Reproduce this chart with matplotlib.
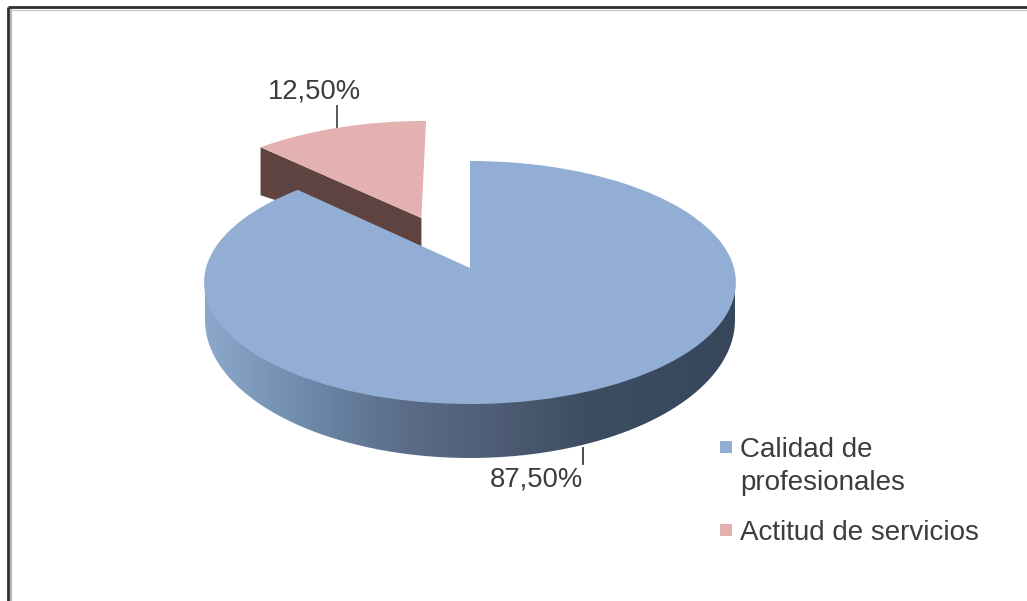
import numpy as np
import matplotlib
matplotlib.use("Agg")
import matplotlib.pyplot as plt
from matplotlib.transforms import Transform
from matplotlib.path import Path
from matplotlib.patches import PathPatch
from matplotlib.colors import LinearSegmentedColormap

categories = ["Calidad de\nprofesionales", "Actitud de servicios"]
values = [87.5, 12.5]
explode = [0, 0.475]
colors = ["#92AED4", "#E3B1B0"]

plt.rcParams["font.family"] = ["Liberation Sans", "DejaVu Sans"]
TXT = "#3c3c3c"
FS = 19.7
FS_LEG = 20

fig = plt.figure(figsize=(10.27, 6.01), dpi=100, facecolor="white")
ax = fig.add_axes([0, 0, 1, 1])


class Tilt(Transform):
    """Perspective view of the pie plane, output in pixel-like data units."""
    input_dims = 2
    output_dims = 2
    is_affine = False
    has_inverse = False
    cy, a, b, k = 268, 264, 119.8, 0.1194

    def __init__(self, cx):
        super().__init__()
        self.cx = cx

    def transform_non_affine(self, values):
        xy = np.asarray(values, dtype=float).reshape(-1, 2)
        s = 1 / (1 + self.k * xy[:, 1])
        return np.column_stack([self.cx + self.a * xy[:, 0] * s, self.cy - self.b * xy[:, 1] * s])


tilt_big = Tilt(470)
tilt_small = Tilt(467)
wedges, _ = ax.pie(values, colors=colors, explode=explode, startangle=90, counterclock=False, radius=1)
ax.set_aspect("auto")
big, small = wedges
big.set_transform(tilt_big + ax.transData)
small.set_transform(tilt_small + ax.transData)
for w in wedges:
    w.set_linewidth(0)
big.set_zorder(5)
small.set_zorder(3)

# side wall of the large slice
top_y = 282
BOT = (470, 320, 265, 138)
t = np.linspace(0, np.pi, 200)
wx = BOT[0] + BOT[2] * np.cos(t)
wy = BOT[1] + BOT[3] * np.sin(t)
wall = np.column_stack([np.r_[BOT[0] + BOT[2], wx, BOT[0] - BOT[2]], np.r_[top_y, wy, top_y]])
wall_clip = PathPatch(Path(wall), transform=ax.transData, fc="none", ec="none")
ax.add_patch(wall_clip)
cmap = LinearSegmentedColormap.from_list(
    "wall",
    [(0, "#8CA8CB"), (0.18, "#6F8BAD"), (0.38, "#5A6C87"), (0.55, "#4E5D75"),
     (0.72, "#3D4D62"), (1, "#36475C")],
)
im = ax.imshow(np.linspace(0, 1, 256)[None, :], cmap=cmap, aspect="auto", vmin=0, vmax=1,
               extent=(BOT[0] - BOT[2], BOT[0] + BOT[2], 601, 0), zorder=2)
im.set_clip_path(wall_clip)

# side wall of the pulled-out slice, below its straight left edge
ang = np.deg2rad(112.5)
ox, oy = explode[1] * np.cos(ang), explode[1] * np.sin(ang)
pts = tilt_small.transform(np.array([[ox, oy], [ox - np.sqrt(0.5), oy + np.sqrt(0.5)]]))
(tx, ty), (cx, cy) = pts
ax.fill([cx, tx, tx, cx], [cy, ty, ty + 30, cy + 48], color="#5F4341", lw=0, zorder=2.5)

# data labels with leader lines
ax.plot([337, 337], [106, 127], color="#4a4a4a", lw=1.3, zorder=6)
ax.plot([583, 583], [448, 464], color="#3a3a3a", lw=1.3, zorder=6)
ax.text(314, 91, f"{values[1]:.2f}%".replace(".", ","), ha="center", va="center",
        fontsize=FS, color=TXT, zorder=7)
ax.text(536, 480, f"{values[0]:.2f}%".replace(".", ","), ha="center", va="center",
        fontsize=FS, color=TXT, zorder=7)

# legend
leg_y = [447, 530]
for lab, c, y in zip(categories, colors, leg_y):
    ax.scatter([726], [y], marker="s", s=75, color=c, linewidths=0, zorder=7)
    ax.text(740, y - 10, lab, ha="left", va="top", fontsize=FS_LEG, color=TXT,
            linespacing=1.33, zorder=7)

# chart frame: dark left and top edges
ax.plot([8, 8], [601, 7], color="#2e2e2e", lw=2, zorder=8, solid_capstyle="butt")
ax.plot([8, 1027], [7, 7], color="#2e2e2e", lw=2, zorder=8, solid_capstyle="butt")
ax.plot([10.5, 10.5], [601, 9], color="#b5b5b5", lw=1.5, zorder=8, solid_capstyle="butt")
ax.plot([10, 1027], [9.5, 9.5], color="#c8c8c8", lw=1, zorder=8, solid_capstyle="butt")

ax.set_xlim(0, 1027)
ax.set_ylim(601, 0)
ax.set_axis_off()
fig.savefig("out.png", dpi=100, facecolor="white")
